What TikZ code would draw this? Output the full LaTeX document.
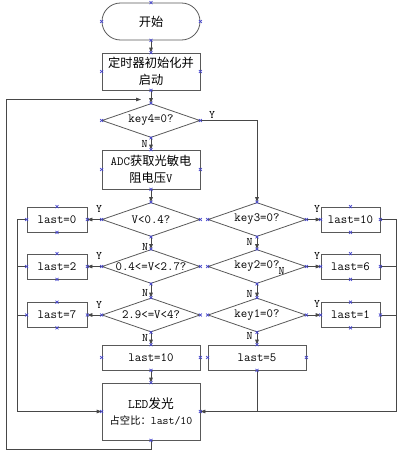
\documentclass[tikz,border=0pt]{standalone}
\usepackage{fontspec}
\newfontfamily\cjk[Scale=0.98]{Noto Sans CJK SC}
\usetikzlibrary{shapes.geometric,arrows.meta}
\tikzset{
  base/.style={font=\ttfamily\fontsize{12.5}{17}\selectfont},
  ln/.style={draw=black!72, line width=0.8pt},
  arr/.style={ln, -{Triangle[length=5pt,width=3.6pt]}},
  box/.style={rectangle, draw=black!65, line width=0.8pt, inner sep=0pt, align=center, base},
  term/.style={box, rounded corners=18.5pt},
  dia/.style={diamond, draw=black!65, line width=0.8pt, inner sep=0pt, minimum width=98pt, minimum height=34pt},
  dtext/.style={inner sep=0pt, base},
  lab/.style={inner sep=0pt, font=\ttfamily\fontsize{11.5}{11.5}\selectfont},
  xm/.style={draw={rgb,255:red,70;green,70;blue,205}, line width=0.6pt}
}
\begin{document}
\begin{tikzpicture}[x=1pt,y=-1pt]
\useasboundingbox (0,0) rectangle (402,455);
% nodes
\node[term, minimum width=98pt, minimum height=37pt] (start) at (151,21.5) {{\cjk 开始}};
\node[box, minimum width=98pt, minimum height=37pt] (init) at (151,71.5) {{\cjk 定时器初始化并}\\{\cjk 启动}};
\node[dia] (d4) at (151,120.5) {};
\node[dtext] (t4) at (d4.center) {key4=0?};
\node[box, minimum width=98pt, minimum height=39pt] (adc) at (151,169.5) {ADC{\cjk 获取光敏电}\\{\cjk 阻电压}V};
% row 1
\node[dia] (v1) at (151,219.5) {};
\node[dtext] (tv1) at (v1.center) {V<0.4?};
\node[dia] (k3) at (257,219.5) {};
\node[dtext] (tk3) at (k3.center) {key3=0?};
\node[box, minimum width=60pt, minimum height=25pt] (l0) at (57,219.5) {last=0};
\node[box, minimum width=59pt, minimum height=25pt] (r10) at (350.5,219.5) {last=10};
% row 2
\node[dia] (v2) at (151,266.5) {};
\node[dtext] (tv2) at (v2.center) {0.4<=V<2.7?};
\node[dia] (k2) at (257,266.5) {};
\node[dtext] (tk2) at (k2.center) {key2=0?};
\node[box, minimum width=60pt, minimum height=25pt] (l2) at (57,266.5) {last=2};
\node[box, minimum width=59pt, minimum height=25pt] (r6) at (350.5,266.5) {last=6};
% row 3
\node[dia] (v3) at (151,315) {};
\node[dtext] (tv3) at (v3.center) {2.9<=V<4?};
\node[dia] (k1) at (257,315) {};
\node[dtext] (tk1) at (k1.center) {key1=0?};
\node[box, minimum width=60pt, minimum height=25pt] (l7) at (57,315) {last=7};
\node[box, minimum width=59pt, minimum height=25pt] (r1) at (350.5,315) {last=1};
% bottom
\node[box, minimum width=98pt, minimum height=25pt] (b10) at (151,357.5) {last=10};
\node[box, minimum width=98pt, minimum height=25pt] (b5) at (257,357.5) {last=5};
\node[box, minimum width=98pt, minimum height=57pt] (led) at (151,411.5)
  {\fontsize{13}{16}\selectfont LED{\cjk 发光}\\[-1pt]{\fontsize{11.5}{12}\selectfont{\cjk\fontsize{10.5}{12}\selectfont 占空比：}last/10}};
% helper coordinates
\coordinate (lbus) at (17,0);
\coordinate (rbus) at (396,0);
\coordinate (loopB) at (6,449);
\coordinate (loopT) at (6,99.5);
\coordinate (loopE) at (141,99.5);
% connectors
\draw[arr] (start.south) -- (init.north);
\draw[arr] (init.south) -- (d4.north);
\draw[arr] (d4.south) -- (adc.north);
\draw[arr] (adc.south) -- (v1.north);
\draw[arr] (d4.east) -- (d4.east -| k3.north) -- (k3.north);
\draw[arr] (v1.west) -- (l0.east);
\draw[arr] (v2.west) -- (l2.east);
\draw[arr] (v3.west) -- (l7.east);
\draw[arr] (v1.south) -- (v2.north);
\draw[arr] (v2.south) -- (v3.north);
\draw[arr] (v3.south) -- (b10.north);
\draw[arr] (b10.south) -- (led.north);
\draw[arr] (k3.east) -- (r10.west);
\draw[arr] (k2.east) -- (r6.west);
\draw[arr] (k1.east) -- (r1.west);
\draw[arr] (k3.south) -- (k2.north);
\draw[arr] (k2.south) -- (k1.north);
\draw[arr] (k1.south) -- (b5.north);
\draw[arr] (l0.west) -- (l0.west -| lbus) -- (led.west -| lbus) -- (led.west);
\draw[ln] (l2.west) -- (l2.west -| lbus);
\draw[ln] (l7.west) -- (l7.west -| lbus);
\draw[arr] (r10.east) -- (r10.east -| rbus) -- (led.east -| rbus) -- (led.east);
\draw[ln] (r6.east) -- (r6.east -| rbus);
\draw[ln] (r1.east) -- (r1.east -| rbus);
\draw[ln] (b5.south) -- (b5.south |- led.east);
\draw[arr] (led.south) -- (led.south |- loopB) -- (loopB) -- (loopT) -- (loopE);
% labels
\node[lab] (y4) at (212,115) {Y};
\node[lab] (n4) at (144.5,144) {N};
\node[lab] (yl1) at (99,209) {Y};
\node[lab] (yl2) at (99,256) {Y};
\node[lab] (yl3) at (99,304.5) {Y};
\node[lab] (yr1) at (317,208.5) {Y};
\node[lab] (yr2) at (317,255.5) {Y};
\node[lab] (yr3) at (317,304) {Y};
\node[lab] (nv1) at (145,247) {N};
\node[lab] (nv2) at (145,293) {N};
\node[lab] (nv3) at (145,337.5) {N};
\node[lab] (nk3) at (249.5,242) {N};
\node[lab] (nk2) at (249.5,294) {N};
\node[lab] (nk1) at (249.5,336) {N};
\node[lab] (nx) at (281.5,271) {N};
% connection markers
\foreach \n in {start,init,d4,adc,v1,k3,l0,r10,v2,k2,l2,r6,v3,k1,l7,r1,b10,b5,led}
  \foreach \a in {north,south,east,west}
    \draw[xm] (\n.\a) +(-1.5,-1.5) -- +(1.5,1.5) +(-1.5,1.5) -- +(1.5,-1.5);
\end{tikzpicture}
\end{document}
